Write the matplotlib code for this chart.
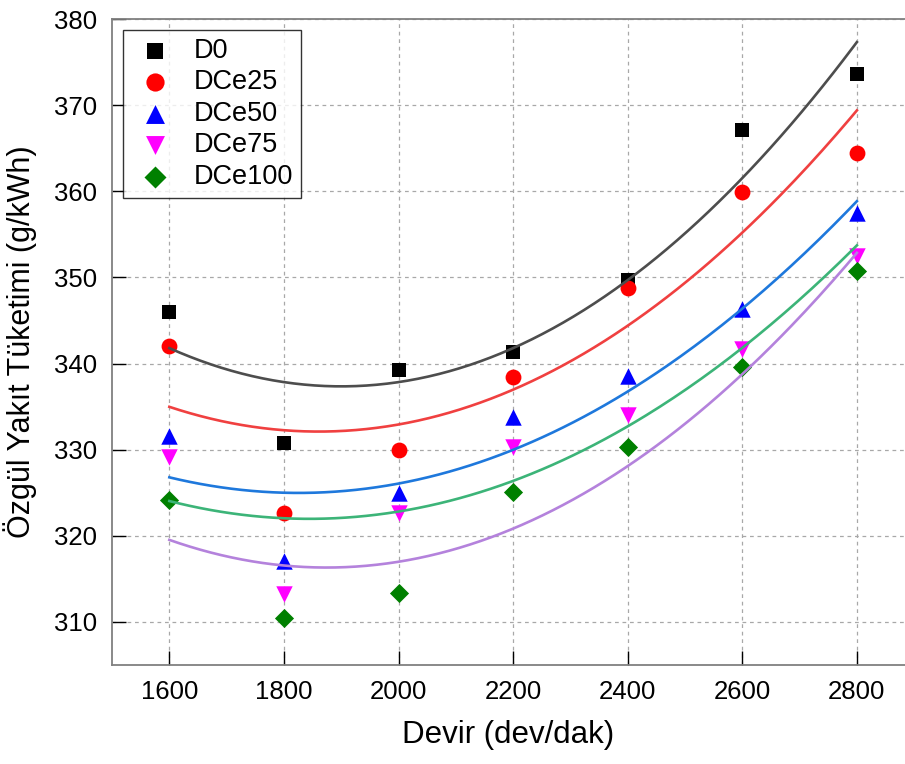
import numpy as np
import matplotlib
matplotlib.use("Agg")
import matplotlib.pyplot as plt

plt.rcParams['font.family'] = ['Liberation Sans', 'DejaVu Sans']

# engine speed (rpm)
devir = [1600, 1800, 2000, 2200, 2400, 2600, 2800]

# specific fuel consumption (g/kWh)
d0 = [346.0, 330.8, 339.3, 341.3, 349.7, 367.1, 373.6]
dce25 = [342.0, 322.6, 330.0, 338.4, 348.8, 359.9, 364.4]
dce50 = [331.6, 317.1, 325.0, 333.8, 338.5, 346.3, 357.5]
dce75 = [329.1, 313.2, 322.7, 330.3, 334.0, 341.7, 352.5]
dce100 = [324.1, 310.4, 313.3, 325.1, 330.3, 339.6, 350.8]

labels = ["D0", "DCe25", "DCe50", "DCe75", "DCe100"]
series = [d0, dce25, dce50, dce75, dce100]
markers = ["s", "o", "^", "v", "D"]
mcolors = ["black", "red", "blue", "magenta", "green"]
msizes = [95, 130, 140, 140, 95]
# colours of the quadratic fit lines
fcolors = ["#4d4d4d", "#f04040", "#1e78dc", "#3cb478", "#b482dc"]

fig = plt.figure(figsize=(9.05, 7.64), dpi=100)
ax = fig.add_axes([0.1238, 0.1296, 0.8762, 0.8455])

x = np.array(devir)
xs = np.linspace(1600, 2800, 200)
for i in range(len(series)):
    ax.scatter(devir, series[i], marker=markers[i], color=mcolors[i],
               s=msizes[i], label=labels[i], zorder=3, linewidths=0)
for i in range(len(series)):
    c = np.polyfit(x, series[i], 2)
    ax.plot(xs, np.polyval(c, xs), color=fcolors[i], lw=1.9, zorder=4)

ax.set_xlim(1500, 2884)
ax.set_ylim(305, 380)
ax.set_xticks(devir)
ax.set_yticks(range(310, 381, 10))
ax.grid(True, color="#a8a8a8", linestyle=(0, (3, 3)), linewidth=0.9)
ax.set_axisbelow(True)
ax.tick_params(direction="in", length=10, width=1, labelsize=18.5, pad=11)
for side in ["left", "bottom", "top"]:
    ax.spines[side].set_color("#808080")
    ax.spines[side].set_linewidth(1.3)
ax.spines["right"].set_visible(False)

ax.set_xlabel("Devir (dev/dak)", fontsize=22.5, labelpad=11)
ax.set_ylabel("Özgül Yakıt Tüketimi (g/kWh)", fontsize=22, labelpad=12)

leg = ax.legend(loc="upper left", fontsize=19.5, frameon=True, fancybox=False,
                edgecolor="black", borderpad=0.3, labelspacing=0.2,
                handlelength=1.8, handletextpad=0.5, borderaxespad=0.4,
                scatterpoints=1, markerscale=1.15)
leg.get_frame().set_linewidth(1.0)

fig.savefig("out.png", dpi=100)
